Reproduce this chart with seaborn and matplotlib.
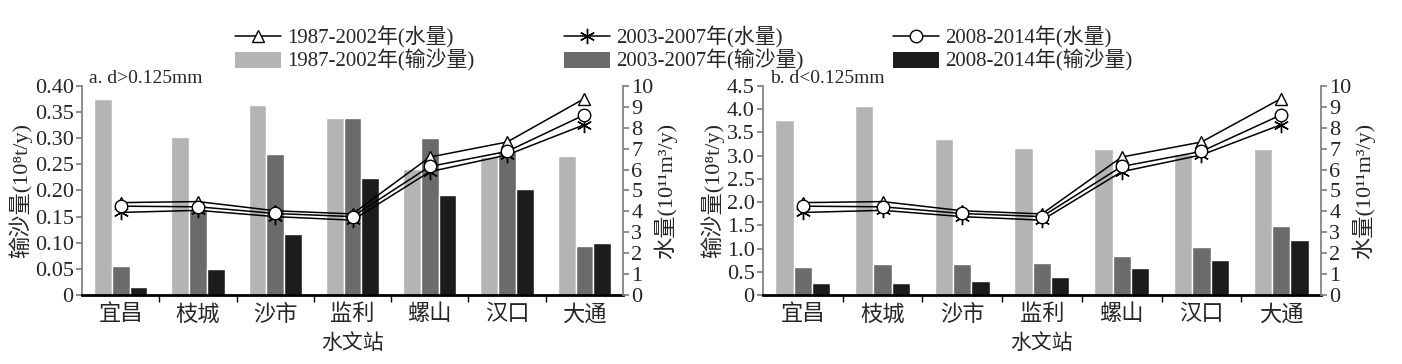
import numpy as np
import pandas as pd
import matplotlib
matplotlib.use("Agg")
import matplotlib.pyplot as plt
import seaborn as sns
from matplotlib.lines import Line2D
from matplotlib.patches import Patch
from matplotlib.ticker import FixedLocator, FuncFormatter

sns.set_theme(style="white")
plt.rcParams['font.family'] = ['Liberation Serif', 'Noto Sans CJK SC', 'DejaVu Sans']

stations = ['宜昌', '枝城', '沙市', '监利', '螺山', '汉口', '大通']
periods = ['1987-2002年', '2003-2007年', '2008-2014年']

# sediment load, d>0.125mm (10^8 t/y)
sed_a_p1 = [0.375, 0.303, 0.364, 0.339, 0.242, 0.265, 0.266]
sed_a_p2 = [0.055, 0.165, 0.270, 0.339, 0.300, 0.275, 0.093]
sed_a_p3 = [0.015, 0.049, 0.116, 0.223, 0.191, 0.203, 0.100]

# sediment load, d<0.125mm (10^8 t/y)
sed_b_p1 = [3.77, 4.06, 3.35, 3.17, 3.14, 3.04, 3.14]
sed_b_p2 = [0.61, 0.66, 0.67, 0.69, 0.84, 1.03, 1.49]
sed_b_p3 = [0.26, 0.26, 0.31, 0.39, 0.59, 0.75, 1.18]

# water discharge (10^11 m3/y)
water_p1 = [4.42, 4.47, 4.03, 3.88, 6.60, 7.32, 9.40]
water_p2 = [3.95, 4.05, 3.75, 3.58, 5.90, 6.70, 8.15]
water_p3 = [4.25, 4.22, 3.90, 3.75, 6.15, 6.87, 8.62]

bar_colors = ['#b4b4b4', '#6b6b6b', '#1c1c1c']
line_markers = ['^', (6, 2, 0), 'o']
marker_sizes = [9, 11, 9]
waters = [water_p1, water_p2, water_p3]

fs = 16

def long_df(a, b, c):
    return pd.DataFrame({
        'station': stations * 3,
        'period': [p for p in periods for _ in stations],
        'sed': a + b + c,
    })


def panel(ax, df, ymax, step, fmt, title):
    sns.barplot(data=df, x='station', y='sed', hue='period', palette=bar_colors,
                width=0.69, gap=0, saturation=1, legend=False, ax=ax)
    ax.set_xlim(-0.5, 6.5)
    ax.set_ylim(0, ymax)
    ticks = np.arange(0, ymax + step / 2, step)
    ax.set_yticks(ticks)
    ax.yaxis.set_major_formatter(FuncFormatter(lambda v, p: '0' if v == 0 else fmt % v))
    ax.set_xlabel('水文站', fontsize=15, labelpad=6)
    ax.set_ylabel('输沙量(10⁸t/y)', fontsize=fs, labelpad=2)
    ax.tick_params(axis='y', direction='out', length=4, color='#808080', labelsize=fs, pad=2, left=True)
    ax.tick_params(axis='x', which='major', length=0, labelsize=16, pad=7)
    ax.xaxis.set_minor_locator(FixedLocator(np.arange(0.5, 6.5, 1)))
    ax.tick_params(axis='x', which='minor', direction='out', length=5, color='black', bottom=True)
    ax.spines['top'].set_visible(False)
    ax.spines['right'].set_visible(False)
    ax.spines['left'].set_color('#808080')
    ax.spines['bottom'].set_color('black')
    ax.spines['bottom'].set_linewidth(2)
    ax.text(0.012, 1.035, title, transform=ax.transAxes, fontsize=14, va='center', ha='left')

    ax2 = ax.twinx()
    x = np.arange(len(stations))
    for w, m, ms in zip(waters, line_markers, marker_sizes):
        sns.lineplot(x=x, y=w, ax=ax2, color='black', lw=1.1, marker=m,
                     markersize=ms, markerfacecolor='white', markeredgecolor='black',
                     markeredgewidth=1.0)
    ax2.set_ylim(0, 10)
    ax2.set_yticks(range(0, 11))
    ax2.set_ylabel('水量(10¹¹m³/y)', fontsize=fs, labelpad=0)
    ax2.tick_params(axis='y', direction='out', length=4, color='#808080', labelsize=fs, pad=2, right=True)
    for s in ['top', 'left', 'bottom']:
        ax2.spines[s].set_visible(False)
    ax2.spines['right'].set_color('#808080')
    ax2.grid(False)
    ax.grid(False)


fig = plt.figure(figsize=(14.02, 3.64), dpi=100)
axa = fig.add_axes([0.0585, 0.1896, 0.3859, 0.5741])
axb = fig.add_axes([0.5442, 0.1896, 0.398, 0.5741])

panel(axa, long_df(sed_a_p1, sed_a_p2, sed_a_p3), 0.40, 0.05, '%.2f', 'a. d>0.125mm')
panel(axb, long_df(sed_b_p1, sed_b_p2, sed_b_p3), 4.5, 0.5, '%.1f', 'b. d<0.125mm')

handles = []
labels = []
for p, c, m, ms in zip(periods, bar_colors, line_markers, marker_sizes):
    handles.append(Line2D([], [], color='black', lw=1.1, marker=m, markersize=ms,
                          markerfacecolor='white', markeredgecolor='black'))
    labels.append(p + '(水量)')
    handles.append(Patch(facecolor=c, edgecolor='none'))
    labels.append(p + '(输沙量)')

fig.legend(handles, labels, ncol=3, loc='upper left', bbox_to_anchor=(0.162, 0.95),
           frameon=False, fontsize=15, handlelength=2.2, handleheight=0.8,
           handletextpad=0.3, columnspacing=4.3, labelspacing=0.05,
           borderaxespad=0)

fig.savefig('out.png', dpi=100)
